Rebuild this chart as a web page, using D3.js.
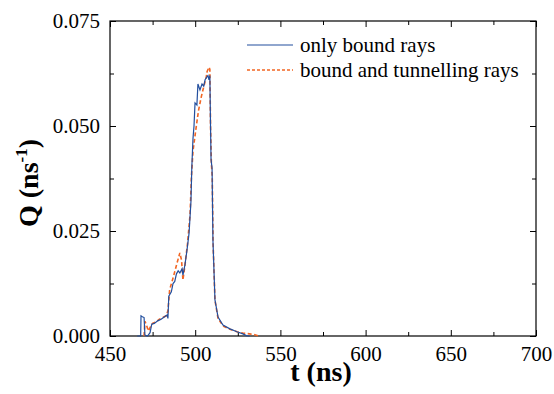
<!DOCTYPE html>
<html>
<head>
<meta charset="utf-8">
<script src="https://cdn.jsdelivr.net/npm/d3@7"></script>
<style>
  body { margin: 0; background: #fff; }
  svg text { font-family: "Liberation Serif", "Times New Roman", serif !important; }
</style>
</head>
<body>
<svg id="chart"></svg>
<script>
// series: [t (ns), Q (1/ns)]
const boundRays = [
  [466,0],[468,0],[468.2,0.0048],[469,0.0046],[470,0.0044],[470.5,0.0002],[472,0],
  [473.5,0.0008],[474.5,0.0028],[476,0.0030],[478,0.0036],[480,0.0040],[482,0.0046],
  [483.5,0.0050],[484,0.0042],[484.5,0.0095],[486,0.0105],[487,0.0125],[488,0.0130],
  [489,0.0148],[490,0.0155],[491,0.0150],[492.3,0.0160],[492.8,0.0145],[494,0.0170],
  [495.2,0.0205],[496.4,0.0245],[497.5,0.032],[498,0.040],[498.7,0.047],[499.3,0.050],
  [499.9,0.0555],[501,0.0550],[501.6,0.0600],[502.8,0.0586],[504,0.0600],[505,0.0595],
  [505.8,0.0610],[506.9,0.0617],[507.5,0.0620],[508.1,0.0610],[508.6,0.0620],[509,0.050],
  [509.3,0.042],[509.9,0.040],[510.4,0.0230],[511.6,0.0086],[513.4,0.0045],[516.3,0.0026],
  [520.4,0.0017],[524.5,0.0010],[528,0.0005],[530,0.0001],[532,0]
];
const boundTunnelRays = [
  [470,0],[470.5,0.0035],[471.5,0.0025],[472.5,0.0012],[473.5,0.0020],[475,0.0030],
  [477,0.0034],[479,0.0040],[481,0.0044],[483,0.0048],[484,0.0060],[485,0.0110],
  [487,0.0138],[489.5,0.0176],[491,0.0198],[492,0.0180],[492.8,0.0133],[494,0.0169],
  [495.5,0.0220],[497,0.0290],[497.8,0.038],[498.7,0.0440],[500,0.0480],[501,0.0510],
  [502,0.0538],[503.6,0.0570],[504.8,0.0590],[506.5,0.0617],[507,0.0630],[508.1,0.0640],
  [508.6,0.0635],[509,0.050],[509.5,0.041],[510,0.038],[510.5,0.022],[511.6,0.0085],
  [513.4,0.0042],[516.3,0.0024],[520.4,0.0016],[524.5,0.0010],[528,0.0007],[532,0.0005],
  [535,0.0003],[537,0]
];
const xTicks = [450, 500, 550, 600, 650, 700];
const xMinorTicks = [475, 525, 575, 625, 675];
const yTicks = [0, 0.025, 0.05, 0.075];
const yMinorTicks = [0.0125, 0.0375, 0.0625];
const seriesNames = ["only bound rays", "bound and tunnelling rays"];
const seriesColors = ["#234f9e", "#f26522"];

const w = 554, h = 394;
const margin = {top: 21, right: 18, bottom: 58, left: 110};
const iw = w - margin.left - margin.right;
const ih = h - margin.top - margin.bottom;
const serif = "'Liberation Serif', 'Times New Roman', serif";

const svg = d3.select("#chart").attr("width", w).attr("height", h);
const g = svg.append("g").attr("transform", "translate(" + margin.left + "," + margin.top + ")");

const xScale = d3.scaleLinear().domain([450, 700]).range([0, iw]);
const yScale = d3.scaleLinear().domain([0, 0.075]).range([ih, 0]);

// axes with inward ticks on all four sides
function styleAxis(sel) {
  sel.attr("font-family", null);
  sel.select(".domain").remove();
  sel.selectAll("line").attr("stroke", "#000").attr("stroke-width", 1);
  sel.selectAll("text").attr("fill", "#000")
     .style("font-family", serif).style("font-size", "21px");
}
g.append("g").attr("transform", "translate(0," + ih + ")")
 .call(d3.axisBottom(xScale).tickValues(xTicks).tickSize(-6).tickPadding(10).tickFormat(d3.format("d")))
 .call(styleAxis);
g.append("g").attr("transform", "translate(0," + ih + ")")
 .call(d3.axisBottom(xScale).tickValues(xMinorTicks).tickSize(-4).tickFormat(""))
 .call(styleAxis);
g.append("g")
 .call(d3.axisTop(xScale).tickValues(xTicks).tickSize(-6).tickFormat(""))
 .call(styleAxis);
g.append("g")
 .call(d3.axisTop(xScale).tickValues(xMinorTicks).tickSize(-4).tickFormat(""))
 .call(styleAxis);
g.append("g")
 .call(d3.axisLeft(yScale).tickValues(yTicks).tickSize(-6).tickPadding(10).tickFormat(d3.format(".3f")))
 .call(styleAxis);
g.append("g")
 .call(d3.axisLeft(yScale).tickValues(yMinorTicks).tickSize(-4).tickFormat(""))
 .call(styleAxis);
g.append("g").attr("transform", "translate(" + iw + ",0)")
 .call(d3.axisRight(yScale).tickValues(yTicks).tickSize(-6).tickFormat(""))
 .call(styleAxis);
g.append("g").attr("transform", "translate(" + iw + ",0)")
 .call(d3.axisRight(yScale).tickValues(yMinorTicks).tickSize(-4).tickFormat(""))
 .call(styleAxis);

// frame
g.append("rect")
 .attr("width", iw).attr("height", ih)
 .attr("fill", "none").attr("stroke", "#000").attr("stroke-width", 1.2);

const line = d3.line()
  .x(d => xScale(d[0]))
  .y(d => yScale(d[1]));

g.append("path")
 .datum(boundTunnelRays)
 .attr("fill", "none")
 .attr("stroke", seriesColors[1])
 .attr("stroke-width", 1.6)
 .attr("stroke-dasharray", "4,2.5")
 .attr("d", line);

g.append("path")
 .datum(boundRays)
 .attr("fill", "none")
 .attr("stroke", seriesColors[0])
 .attr("stroke-width", 1.2)
 .attr("d", line);

// legend
const legend = g.append("g").attr("transform", "translate(137,24)");
seriesNames.forEach((name, i) => {
  const row = legend.append("g").attr("transform", "translate(0," + (i * 25) + ")");
  row.append("line")
     .attr("x1", 0).attr("x2", 46).attr("y1", 0).attr("y2", 0)
     .attr("stroke", seriesColors[i])
     .attr("stroke-width", i == 0 ? 1.2 : 1.4)
     .attr("stroke-dasharray", i == 0 ? null : "3,2");
  row.append("text")
     .attr("x", 53).attr("y", 0).attr("dy", "0.32em")
     .style("font-size", "21px")
     .text(name);
});

// axis titles
svg.append("text")
   .attr("x", margin.left + iw / 2 - 2)
   .attr("y", 381)
   .attr("text-anchor", "middle")
   .attr("font-weight", "bold")
   .style("font-size", "28px")
   .text("t (ns)");

const yTitle = svg.append("text")
   .attr("transform", "translate(38," + 183 + ") rotate(-90)")
   .attr("text-anchor", "middle")
   .attr("font-weight", "bold")
   .style("font-size", "28px");
yTitle.append("tspan").text("Q (ns");
yTitle.append("tspan").style("font-size", "17px").attr("dy", -11).text("-1");
yTitle.append("tspan").attr("dy", 11).text(")");
</script>
</body>
</html>
